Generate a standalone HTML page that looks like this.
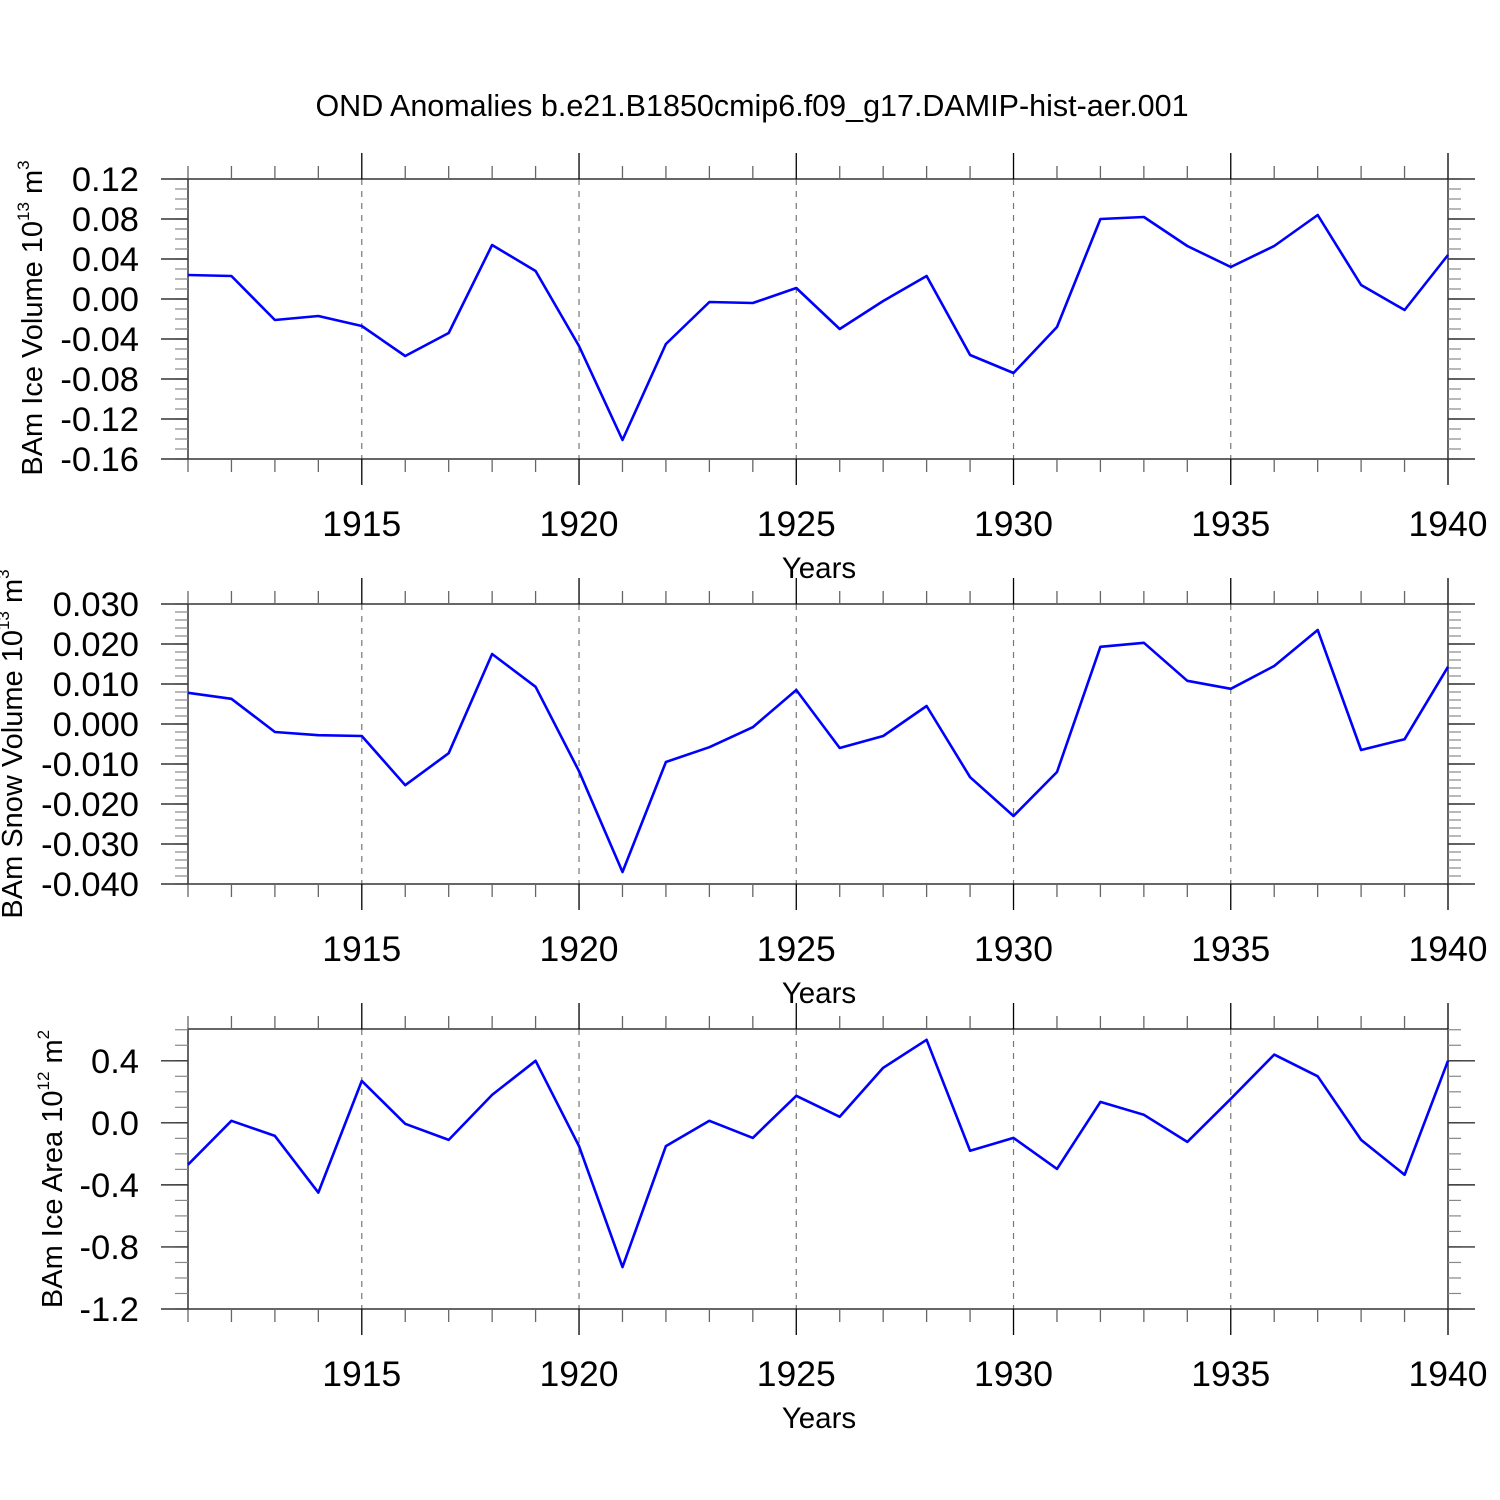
<!DOCTYPE html>
<html><head><meta charset="utf-8"><style>
html,body{margin:0;padding:0;background:#fff;}
svg{display:block;font-family:"Liberation Sans",sans-serif;}
</style></head><body>
<svg id="chart" width="1500" height="1500" viewBox="0 0 1500 1500" xmlns="http://www.w3.org/2000/svg">
<text x="752" y="116" font-size="30.5" text-anchor="middle">OND Anomalies b.e21.B1850cmip6.f09_g17.DAMIP-hist-aer.001</text>
</svg>
<script>
const years = [1911,1912,1913,1914,1915,1916,1917,1918,1919,1920,1921,1922,1923,1924,1925,1926,1927,1928,1929,1930,1931,1932,1933,1934,1935,1936,1937,1938,1939,1940];
const iceVolume = [0.024,0.023,-0.021,-0.017,-0.027,-0.057,-0.034,0.054,0.028,-0.047,-0.141,-0.045,-0.003,-0.004,0.011,-0.030,-0.002,0.023,-0.056,-0.074,-0.028,0.080,0.082,0.053,0.032,0.053,0.084,0.014,-0.011,0.044];
const snowVolume = [0.0078,0.0063,-0.002,-0.0028,-0.003,-0.0153,-0.0073,0.0175,0.0093,-0.0118,-0.037,-0.0095,-0.0058,-0.0008,0.0085,-0.006,-0.003,0.0045,-0.0133,-0.023,-0.012,0.0193,0.0203,0.0108,0.0088,0.0145,0.0235,-0.0065,-0.0038,0.0143];
const iceArea = [-0.27,0.013,-0.084,-0.45,0.27,-0.006,-0.11,0.18,0.40,-0.15,-0.93,-0.15,0.013,-0.097,0.174,0.039,0.355,0.535,-0.18,-0.097,-0.297,0.135,0.052,-0.123,0.155,0.44,0.30,-0.11,-0.335,0.40];
const xTickYears = [1915,1920,1925,1930,1935,1940];
const p1Ticks = ["0.12","0.08","0.04","0.00","-0.04","-0.08","-0.12","-0.16"];
const p2Ticks = ["0.030","0.020","0.010","0.000","-0.010","-0.020","-0.030","-0.040"];
const p3Ticks = ["0.4","0.0","-0.4","-0.8","-1.2"];

const svg = document.getElementById('chart');
const NS = 'http://www.w3.org/2000/svg';
const X0 = 188, X1 = 1448;
function xs(yr){ return X0 + (yr-1911)/(1940-1911)*(X1-X0); }
function mk(tag, attrs){ const e=document.createElementNS(NS,tag); for(const k in attrs) e.setAttribute(k,attrs[k]); return e; }

const panels = [
 {top:179, bot:459, min:-0.16, max:0.12, data:iceVolume, ticks:p1Ticks, minor:0.01, name:'ice-volume',
  title:['BAm Ice Volume 10','13',' m','3'], tx:42, ty:318},
 {top:604, bot:884, min:-0.04, max:0.03, data:snowVolume, ticks:p2Ticks, minor:0.002, name:'snow-volume',
  title:['BAm Snow Volume 10','13',' m','3'], tx:22, ty:744},
 {top:1029, bot:1309, min:-1.2, max:0.6048, data:iceArea, ticks:p3Ticks, minor:0.1, name:'ice-area',
  title:['BAm Ice Area 10','12',' m','2'], tx:62, ty:1169}
];

panels.forEach(p=>{
  const g = mk('g',{});
  
  
  svg.appendChild(g);
  const ys = v => p.bot - (v-p.min)/(p.max-p.min)*(p.bot-p.top);
  xTickYears.slice(0,-1).forEach(yr=>{
    const l = mk('line',{x1:xs(yr),x2:xs(yr),y1:p.top,y2:p.bot,stroke:'#777','stroke-width':1.2,'stroke-dasharray':'6,6'});
    
    
    g.appendChild(l);
  });
  const fr = mk('rect',{x:X0,y:p.top,width:X1-X0,height:p.bot-p.top,fill:'none',stroke:'#333','stroke-width':1.5});
  
  
  g.appendChild(fr);
  years.forEach(yr=>{
    const major = xTickYears.includes(yr);
    const len = major?26:13;
    const x = xs(yr);
    g.appendChild(mk('line',{x1:x,x2:x,y1:p.top-len,y2:p.top,stroke:major?'#000':'#666','stroke-width':1.3}));
    g.appendChild(mk('line',{x1:x,x2:x,y1:p.bot,y2:p.bot+len,stroke:major?'#000':'#666','stroke-width':1.3}));
  });
  xTickYears.forEach(yr=>{
    const t = mk('text',{x:xs(yr),y:p.bot+77,'font-size':35.5,'text-anchor':'middle'});
    
    
    t.textContent = yr; g.appendChild(t);
  });
  const xt = mk('text',{x:819,y:p.bot+119,'font-size':29.5,'text-anchor':'middle'});
  
  
  xt.textContent='Years'; g.appendChild(xt);
  const nMin = Math.round((p.max-p.min)/p.minor);
  for(let i=0;i<=nMin;i++){
    const v = p.min + i*p.minor; const y = ys(v);
    if(y < p.top-0.5) continue;
    g.appendChild(mk('line',{x1:X0-13,x2:X0,y1:y,y2:y,stroke:'#888','stroke-width':1.2}));
    g.appendChild(mk('line',{x1:X1,x2:X1+13,y1:y,y2:y,stroke:'#888','stroke-width':1.2}));
  }
  p.ticks.forEach(s=>{
    const y = ys(parseFloat(s));
    g.appendChild(mk('line',{x1:X0-27,x2:X0,y1:y,y2:y,stroke:'#333','stroke-width':1.4}));
    g.appendChild(mk('line',{x1:X1,x2:X1+27,y1:y,y2:y,stroke:'#333','stroke-width':1.4}));
    const t = mk('text',{x:139,y:y+12,'font-size':34.5,'text-anchor':'end'});
    
    
    t.textContent=s; g.appendChild(t);
  });
  const yt = mk('text',{x:0,y:0,'font-size':29,'text-anchor':'middle',transform:`translate(${p.tx},${p.ty}) rotate(-90)`});
  
  
  const parts = p.title;
  [[parts[0],0],[parts[1],1],[parts[2],0],[parts[3],1]].forEach(([s,sup])=>{
    const ts = mk('tspan', sup?{'font-size':17,dy:-13}:{dy:0});
    if(!sup && s===parts[2]) ts.setAttribute('dy',13);
    ts.textContent=s; yt.appendChild(ts);
  });
  g.appendChild(yt);
  const d = p.data.map((v,i)=>(i?'L':'M')+xs(years[i]).toFixed(1)+','+ys(v).toFixed(1)).join(' ');
  const path = mk('path',{d:d,fill:'none',stroke:'#0000ff','stroke-width':2.6,'stroke-linejoin':'round'});
  
  
  g.appendChild(path);
});
</script>
</body></html>
